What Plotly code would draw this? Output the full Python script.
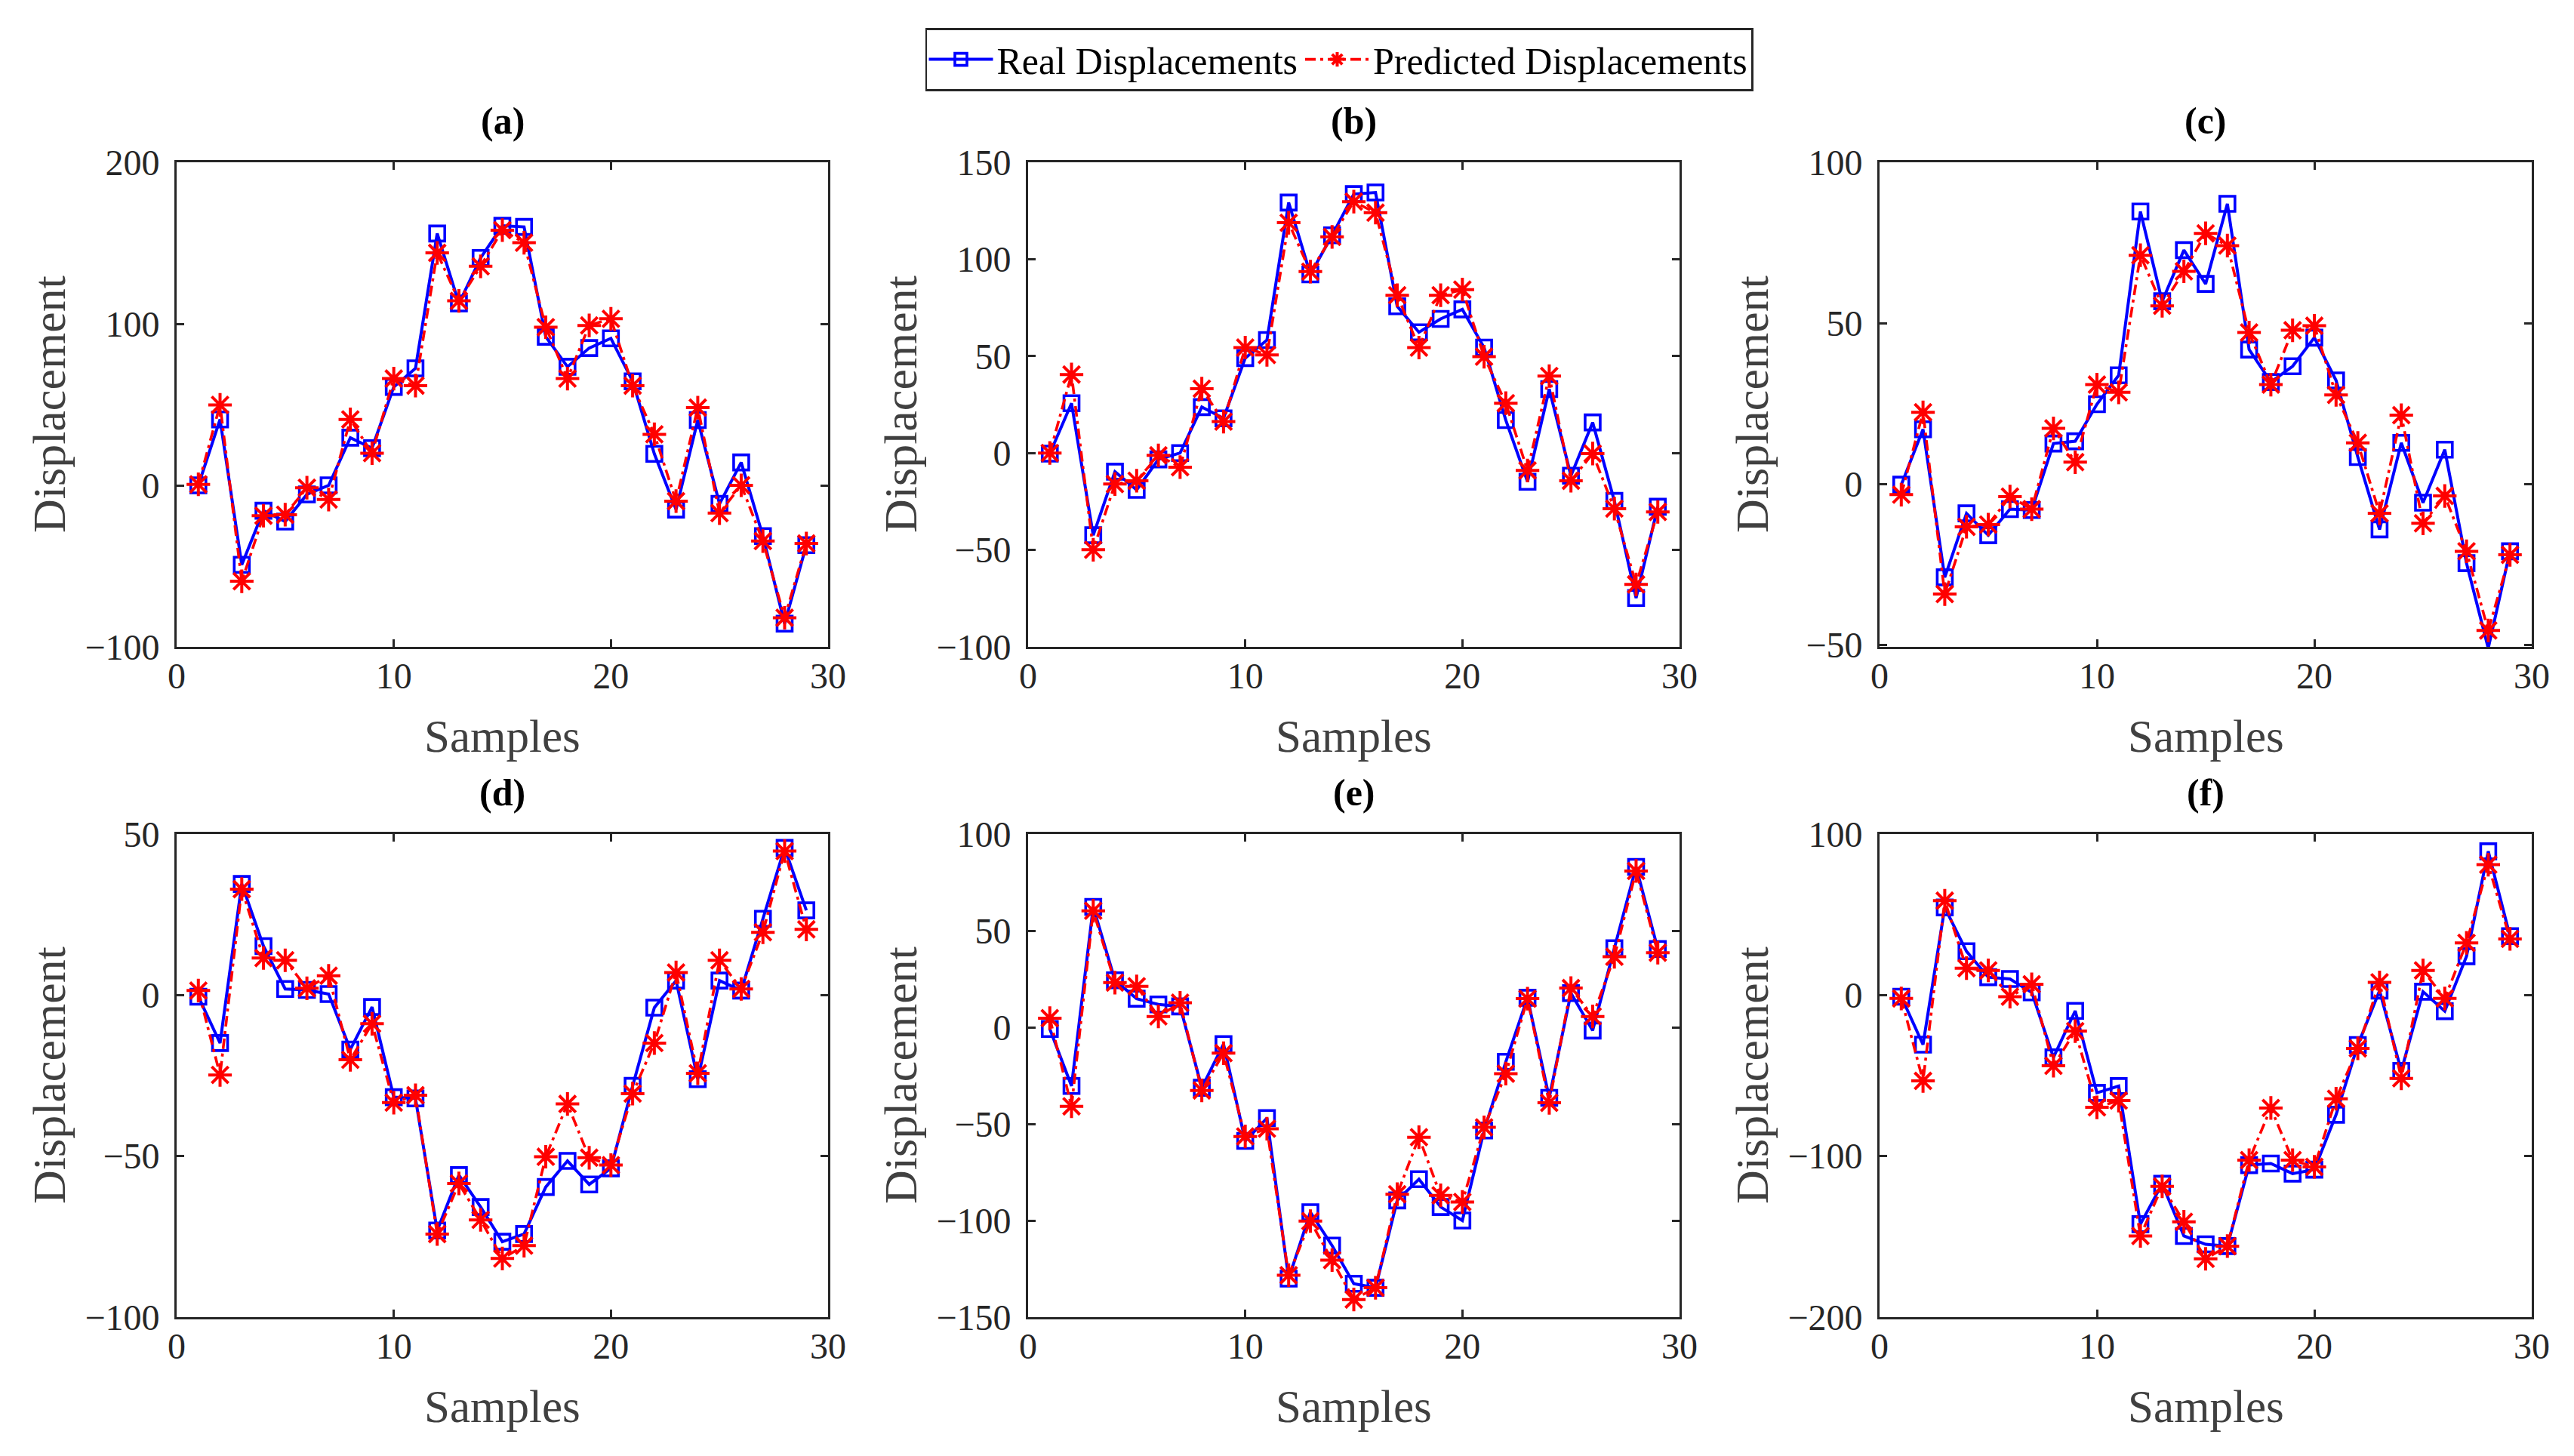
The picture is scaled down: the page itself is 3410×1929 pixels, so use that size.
import plotly.graph_objects as go

samples = [1, 2, 3, 4, 5, 6, 7, 8, 9, 10, 11, 12, 13, 14, 15, 16, 17, 18, 19, 20,
           21, 22, 23, 24, 25, 26, 27, 28, 29]

real_a = [0, 40.8, -49.2, -15.7, -22.4, -5.6, 0, 29.5, 23, 60.9, 72.4, 155.9, 112.6, 140.8,
          160.7, 160, 92, 73.4, 85, 91, 64.4, 19.5, -15, 40.4, -11.5, 14.2, -31.4, -85.6, -37]
pred_a = [0.6, 49.8, -59.4, -18.8, -18.2, -1.5, -8.8, 40.8, 19.9, 66.1, 61.7, 143.9, 114.2, 135.6,
          158, 150.2, 97.9, 66.1, 99, 103.1, 61.7, 31.6, -9.8, 48.1, -17.2, 0, -34.5, -82, -36]

real_b = [-0.3, 25.7, -42.4, -9.6, -19, -3.3, 0, 23.7, 17.9, 49, 58.3, 129.2, 92.2, 112.3,
          133.6, 134.4, 75.7, 62.3, 69.2, 74.1, 54.4, 17, -14.8, 33, -11.7, 15.8, -24.7, -74.8, -27.7]
pred_b = [0, 40.5, -49.9, -16, -14.3, -1.2, -7.3, 33.2, 16.2, 54.4, 50.6, 118.8, 93.6, 111.5,
          129.7, 124, 81.4, 54.4, 81.4, 84.3, 49.7, 25.7, -9, 39.7, -14.3, -0.3, -28.7, -67.8, -30.4]

real_c = [-0.2, 17, -29, -9.1, -15.9, -7.8, -8.1, 12.6, 13.3, 24.8, 33.8, 84.7, 56.8, 72.7,
          62.2, 87.1, 41.8, 31.7, 36.6, 45.5, 32.2, 8.4, -14.1, 12.8, -5.8, 10.7, -24.6, -51, -20.9]
pred_c = [-3.3, 22.3, -34.2, -13.3, -12.6, -3.9, -7.8, 17.3, 6.8, 30.9, 28.5, 71.1, 55.4, 66.1,
          77.9, 74.1, 47.1, 30.9, 47.8, 49.2, 27.7, 12.8, -9.1, 21.4, -12.2, -3.7, -20.9, -45.5, -22]

real_d = [-0.5, -14.9, 34.5, 15.2, 1.9, 1.6, 0.3, -16.9, -3.7, -31.7, -32.1, -73.1, -55.9, -65.8,
          -76.6, -74.2, -59.6, -51.5, -58.8, -53.8, -28.2, -3.9, 4.5, -26.1, 4.5, 1.4, 23.7, 45.7, 26.3]
pred_d = [1.4, -24.8, 32.9, 11.5, 10.8, 2.1, 6, -20.1, -8.9, -33.4, -31.1, -74.2, -58.5, -69.8,
          -81.8, -77.8, -50.2, -33.8, -50.5, -52.8, -30.6, -14.9, 7, -24.3, 10.8, 1.9, 19.5, 44.7, 20.4]

real_e = [-0.9, -30.4, 62.3, 24.3, 14.8, 11.8, 10.8, -31.3, -8.7, -58.8, -47, -130.1, -95.7, -113,
          -132.7, -134.8, -89.6, -78.6, -93, -100, -53.4, -17.9, 15.3, -36.5, 17.7, -1.7, 40.9, 83, 40.5]
pred_e = [4.7, -40.9, 60.3, 23.1, 21.2, 5.6, 12.7, -32.7, -13.4, -56.5, -52.5, -128.3, -100.3, -120.5,
          -140.9, -134.8, -86.4, -56.9, -87, -90.4, -51.8, -24, 14.8, -39.1, 20.3, 5.6, 36.5, 80.9, 38.6]

real_f = [-1, -30.8, 54.4, 27.2, 11.1, 10, 1.7, -38.7, -9.8, -60.7, -56.5, -142.3, -117.2, -149.6,
          -154.8, -155.9, -105.6, -104.6, -110.9, -108.4, -74.3, -31, 2.7, -47.1, 2.1, -10, 24.1, 89.3, 36.6]
pred_f = [-2.1, -53.3, 58.6, 16.7, 15.3, -1, 6.7, -43.9, -22.4, -69.7, -65.5, -149.6, -118.8, -140.8,
          -163.8, -155.9, -102.5, -70.1, -102.5, -106.7, -64.4, -33.1, 7.9, -51.7, 15.3, -2.1, 32.4, 81, 34.9]

panel_titles = ["(a)", "(b)", "(c)", "(d)", "(e)", "(f)"]
y_ranges = [[-100, 200], [-100, 150], [-50.6, 100], [-100, 50], [-150, 100], [-200, 100]]
y_ticks = [[-100, 0, 100, 200], [-100, -50, 0, 50, 100, 150], [-50, 0, 50, 100],
           [-100, -50, 0, 50], [-150, -100, -50, 0, 50, 100], [-200, -100, 0, 100]]
x_ticks = [0, 10, 20, 30]
x_label = "Samples"
y_label = "Displacement"
real_name = "Real Displacements"
pred_name = "Predicted Displacements"

reals = [real_a, real_b, real_c, real_d, real_e, real_f]
preds = [pred_a, pred_b, pred_c, pred_d, pred_e, pred_f]

W, H = 3410, 1929
col_px = [(234, 1097), (1362, 2225), (2490, 3354)]
row_px = [(215, 857), (1105, 1745)]

FONT = "Liberation Serif"
AXC = "#262626"

fig = go.Figure()
annotations = []
layout_axes = {}

for i in range(6):
    r, c = divmod(i, 3)
    x0, x1 = col_px[c]
    y0, y1 = row_px[r]
    xd = [x0 / W, x1 / W]
    yd = [1 - y1 / H, 1 - y0 / H]
    suffix = "" if i == 0 else str(i + 1)
    xname, yname = "x" + suffix, "y" + suffix

    fig.add_trace(go.Scatter(
        x=samples, y=reals[i], mode="lines+markers", name=real_name,
        line=dict(color="#0000FF", width=4),
        marker=dict(symbol="square-open", size=20, color="#0000FF", line=dict(width=3.6, color="#0000FF")),
        xaxis=xname, yaxis=yname, showlegend=(i == 0), legendgroup="real", cliponaxis=False))
    fig.add_trace(go.Scatter(
        x=samples, y=preds[i], mode="lines+markers", name=pred_name,
        line=dict(color="#FF0000", width=3.6, dash="14px,6px,4px,6px"),
        marker=dict(symbol="asterisk-open", size=26, color="#FF0000", line=dict(width=4, color="#FF0000")),
        xaxis=xname, yaxis=yname, showlegend=(i == 0), legendgroup="pred", cliponaxis=False))

    common = dict(showline=True, linecolor=AXC, linewidth=2.6, mirror="ticks", ticks="inside",
                  ticklen=10, tickwidth=2.6, tickcolor=AXC, showgrid=False, zeroline=False,
                  tickfont=dict(family=FONT, size=48, color=AXC), automargin=False)
    layout_axes["xaxis" + suffix] = dict(common, domain=xd, anchor=yname, range=[0, 30],
                                         tickmode="array", tickvals=x_ticks, ticklabelstandoff=-5)
    layout_axes["yaxis" + suffix] = dict(common, domain=yd, anchor=xname, range=y_ranges[i],
                                         tickmode="array", tickvals=y_ticks[i], ticklabelstandoff=10)

    cx = (x0 + x1) / 2 / W
    annotations.append(dict(text="<b>" + panel_titles[i] + "</b>", x=cx, y=1 - (y0 - 55) / H,
                            xref="paper", yref="paper", showarrow=False, xanchor="center", yanchor="middle",
                            font=dict(family=FONT, size=50, color="#000000")))
    annotations.append(dict(text=x_label, x=cx, y=1 - (y1 + 118) / H,
                            xref="paper", yref="paper", showarrow=False, xanchor="center", yanchor="middle",
                            font=dict(family=FONT, size=61, color="#404040")))
    annotations.append(dict(text=y_label, x=(x0 - 169) / W, y=1 - (y0 + y1) / 2 / H,
                            xref="paper", yref="paper", showarrow=False, xanchor="center", yanchor="middle",
                            textangle=-90, font=dict(family=FONT, size=62, color="#404040")))

fig.update_layout(
    width=W, height=H, margin=dict(l=0, r=0, t=0, b=0),
    paper_bgcolor="white", plot_bgcolor="white",
    showlegend=True,
    legend=dict(orientation="h", x=1774 / W, y=1 - 37 / H, xanchor="center", yanchor="top",
                bordercolor=AXC, borderwidth=2.6, bgcolor="white", itemwidth=85,
                font=dict(family=FONT, size=50, color="#000000")),
    annotations=annotations,
    **layout_axes,
)

fig.write_html("out.html", config={"displayModeBar": False},
               post_script="document.body.style.margin='0px';")
